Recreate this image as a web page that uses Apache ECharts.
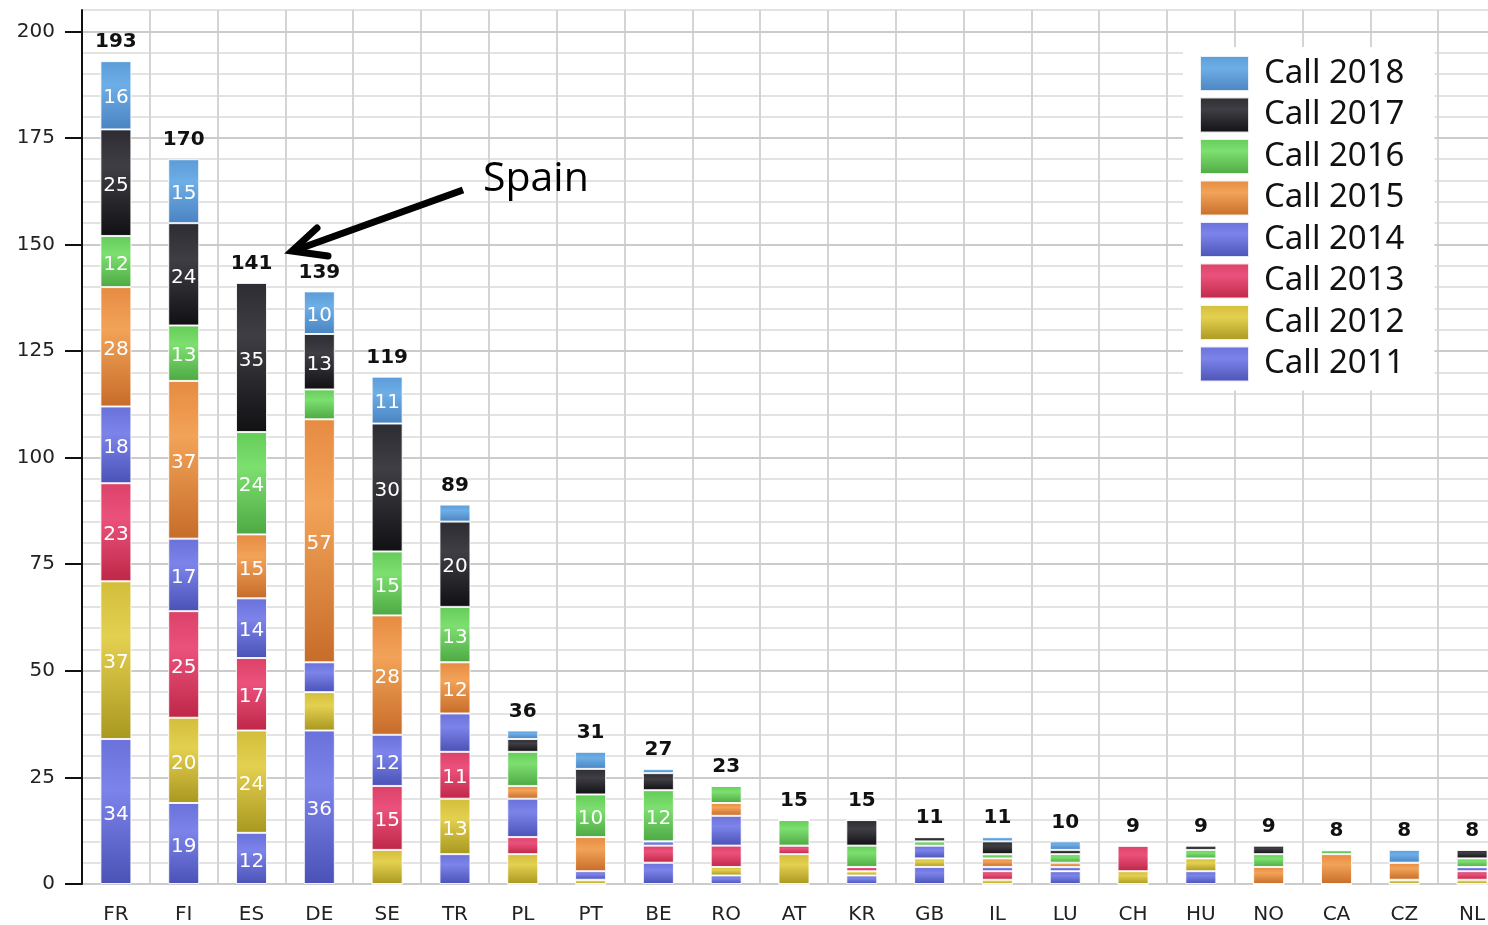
<!DOCTYPE html>
<html lang="en">
<head>
    <meta charset="UTF-8">
    <title>Participation per country</title>
    <script type="text/javascript" src="https://cdn.jsdelivr.net/npm/echarts@6/dist/echarts.min.js"></script>
    <style>
        body { margin: 0; background: #fff; }
        #div_chart { width: 1488px; height: 925px; }
    </style>
</head>
<body>
<div id="div_chart"></div>
<script type="text/javascript">
    // countries on the x axis
    var countries = ['FR', 'FI', 'ES', 'DE', 'SE', 'TR', 'PL', 'PT', 'BE', 'RO', 'AT',
        'KR', 'GB', 'IL', 'LU', 'CH', 'HU', 'NO', 'CA', 'CZ', 'NL'];

    // projects per call, bottom of the stack first
    var call2011 = [34, 19, 12, 36, 0, 7, 0, 0, 5, 2, 0, 2, 4, 0, 3, 0, 3, 0, 0, 0, 0];
    var call2012 = [37, 20, 24, 9, 8, 13, 7, 1, 0, 2, 7, 1, 2, 1, 0, 3, 3, 0, 0, 1, 1];
    var call2013 = [23, 25, 17, 0, 15, 11, 4, 0, 4, 5, 2, 1, 0, 2, 0, 6, 0, 0, 0, 0, 2];
    var call2014 = [18, 17, 14, 7, 12, 9, 9, 2, 1, 7, 0, 0, 3, 1, 1, 0, 0, 0, 0, 0, 1];
    var call2015 = [28, 37, 15, 57, 28, 12, 3, 8, 0, 3, 0, 0, 0, 2, 1, 0, 0, 4, 7, 4, 0];
    var call2016 = [12, 13, 24, 7, 15, 13, 8, 10, 12, 4, 6, 5, 1, 1, 2, 0, 2, 3, 1, 0, 2];
    var call2017 = [25, 24, 35, 13, 30, 20, 3, 6, 4, 0, 0, 6, 1, 3, 1, 0, 1, 2, 0, 0, 2];
    var call2018 = [16, 15, 0, 10, 11, 4, 2, 4, 1, 0, 0, 0, 0, 1, 2, 0, 0, 0, 0, 3, 0];

    var calls = [
        {name: 'Call 2011', data: call2011, c: ['#6a71da', '#7c84ea', '#4b52b6']},
        {name: 'Call 2012', data: call2012, c: ['#d2be3a', '#e4d050', '#a99820']},
        {name: 'Call 2013', data: call2013, c: ['#dc4168', '#ea527c', '#bf2748']},
        {name: 'Call 2014', data: call2014, c: ['#6a71da', '#7c84ea', '#4b52b6']},
        {name: 'Call 2015', data: call2015, c: ['#e68b42', '#f2a358', '#c76c2a']},
        {name: 'Call 2016', data: call2016, c: ['#64cc58', '#7ddf70', '#4ea944']},
        {name: 'Call 2017', data: call2017, c: ['#2c2c32', '#3e3e44', '#111114']},
        {name: 'Call 2018', data: call2018, c: ['#5b9bd8', '#6eaee6', '#4a84c2']}
    ];

    // totals on top of each bar
    var totals = countries.map(function (c, i) {
        var s = 0;
        calls.forEach(function (k) { s += k.data[i]; });
        return s;
    });

    function grad(c) {
        return new echarts.graphic.LinearGradient(0, 0, 0, 1, [
            {offset: 0, color: c[0]},
            {offset: 0.35, color: c[1]},
            {offset: 1, color: c[2]}
        ]);
    }

    var series = calls.map(function (k) {
        return {
            name: k.name,
            type: 'bar',
            stack: 'all',
            barWidth: 31,
            data: k.data,
            itemStyle: {color: grad(k.c), borderColor: 'rgba(255,255,255,0.85)', borderWidth: 1},
            label: {
                show: true,
                position: 'inside',
                offset: [0, 3],
                color: '#fff',
                fontFamily: 'DejaVu Sans',
                fontSize: 20,
                formatter: function (p) { return p.value >= 10 ? p.value : ''; }
            }
        };
    });

    // empty bar on top only carries the total label
    series.push({
        name: 'Total',
        type: 'bar',
        stack: 'all',
        barWidth: 31,
        data: countries.map(function () { return 0; }),
        itemStyle: {color: 'rgba(0,0,0,0)'},
        label: {
            show: true,
            position: 'top',
            distance: 9,
            color: '#111',
            fontFamily: 'DejaVu Sans',
            fontWeight: 'bold',
            fontSize: 20,
            formatter: function (p) { return totals[p.dataIndex]; }
        }
    });

    var myChart = echarts.init(document.getElementById('div_chart'));
    var option = {
        animation: false,
        // plot runs past the right edge, NL is cut in half like the original
        grid: {left: 82, width: 1424, top: 10, bottom: 41, outerBoundsMode: 'none', containLabel: false},
        legend: {
            orient: 'vertical',
            left: 1183,
            top: 47,
            padding: [8, 30, 8, 16],
            backgroundColor: '#fff',
            itemWidth: 49,
            itemHeight: 35,
            itemGap: 4.5,
            icon: 'rect',
            data: ['Call 2018', 'Call 2017', 'Call 2016', 'Call 2015',
                'Call 2014', 'Call 2013', 'Call 2012', 'Call 2011'],
            textStyle: {
                fontFamily: 'Noto Sans',
                fontSize: 33,
                color: '#111',
                lineHeight: 35,
                padding: [0, 0, 0, 10]
            }
        },
        xAxis: {
            type: 'category',
            data: countries,
            axisLine: {lineStyle: {color: '#111', width: 2}},
            axisTick: {length: 17, lineStyle: {color: '#111', width: 2}},
            axisLabel: {color: '#222', fontFamily: 'DejaVu Sans', fontSize: 20, margin: 21},
            splitLine: {show: true, lineStyle: {color: '#d4d4d4', width: 2}}
        },
        yAxis: [
            {
                // main axis: labels, ticks and the darker lines every 25
                type: 'value',
                min: 0,
                max: 205,
                interval: 25,
                z: 1,
                axisLine: {show: true, lineStyle: {color: '#111', width: 2}},
                axisTick: {show: true, length: 17, lineStyle: {color: '#111', width: 2}},
                axisLabel: {showMaxLabel: false, color: '#222', fontFamily: 'DejaVu Sans', fontSize: 20, margin: 27},
                splitLine: {show: true, showMaxLine: false, lineStyle: {width: 2, color: '#cbcbcb'}}
            },
            {
                // light lines every 5
                type: 'value',
                position: 'left',
                min: 0,
                max: 205,
                interval: 5,
                z: 0,
                axisLine: {show: false},
                axisTick: {show: false},
                axisLabel: {show: false},
                splitLine: {show: true, lineStyle: {width: 2, color: '#e3e3e3'}}
            }
        ],
        graphic: [
            {
                type: 'text',
                z: 100,
                style: {x: 483, y: 179, text: 'Spain', font: '41px "Open Sans"', fill: '#000', textVerticalAlign: 'middle'}
            },
            {
                type: 'line',
                z: 100,
                shape: {x1: 463, y1: 190, x2: 296, y2: 250},
                style: {stroke: '#000', lineWidth: 7}
            },
            {
                type: 'polyline',
                z: 100,
                shape: {points: [[317, 228], [292, 251], [328, 256]]},
                style: {stroke: '#000', lineWidth: 7, fill: null, lineJoin: 'miter', lineCap: 'round'}
            }
        ],
        series: series
    };
    myChart.setOption(option);
</script>
</body>
</html>
